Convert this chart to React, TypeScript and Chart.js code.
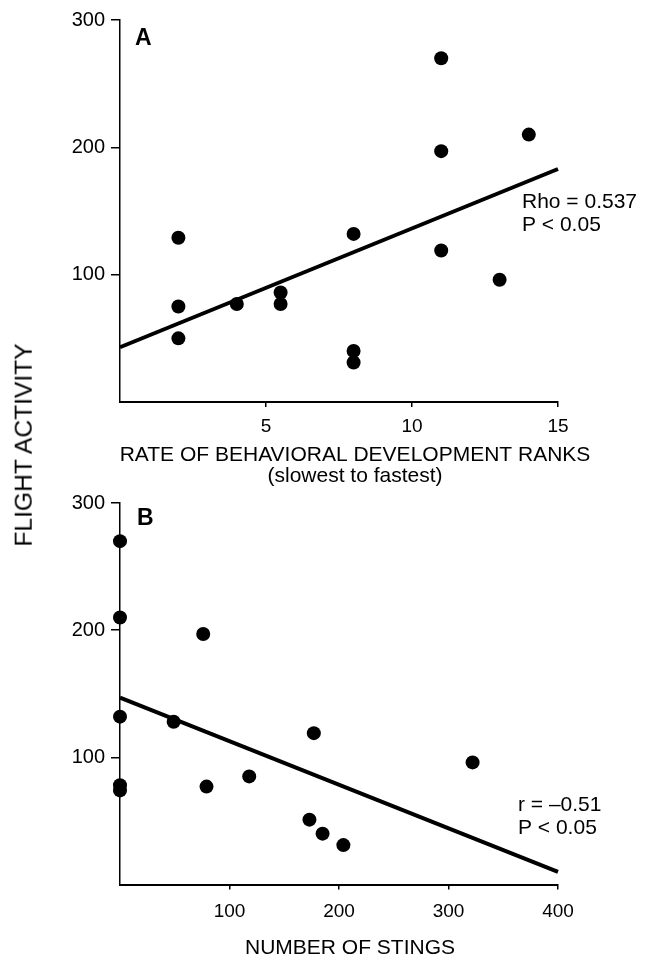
import React, { useEffect, useRef } from 'react';
import { Chart, registerables } from 'chart.js';

Chart.register(...registerables);

// Panel A: rate of behavioral development ranks vs flight activity
const rankA = [2, 2, 2, 4, 5.5, 5.5, 8, 8, 8, 11, 11, 11, 13, 14];
const flightA = [129, 75, 50, 77, 86, 77, 132, 40, 31, 270, 197, 119, 96, 210];
const fitAX = [0, 15];
const fitAY = [43, 183];

// Panel B: number of stings vs flight activity
const stingsB = [0, 0, 76, 0, 49, 0, 0, 79, 118, 177, 173, 185, 204, 322];
const flightB = [270, 210, 197, 132, 128, 74, 78, 77, 85, 119, 51, 40, 31, 96];
const fitBX = [0, 400];
const fitBY = [147, 10];

// Tick values
const yTicks = [100, 200, 300];
const xTicksA = [5, 10, 15];
const xTicksB = [100, 200, 300, 400];

// Texts
const titleA1 = 'RATE OF BEHAVIORAL DEVELOPMENT RANKS';
const titleA2 = '(slowest to fastest)';
const titleB = 'NUMBER OF STINGS';
const statA = ['Rho = 0.537', 'P < 0.05'];
const statB = ['r = \u20130.51', 'P < 0.05'];
const yTitle = 'FLIGHT ACTIVITY';

const FONT = '"Liberation Sans", Arial, Helvetica, sans-serif';

const textPlugin = {
  id: 'texts',
  afterDraw(chart: any, _args: any, opts: any) {
    const ctx = chart.ctx;
    ctx.save();
    for (const t of opts.items || []) {
      ctx.font = t.font;
      ctx.fillStyle = '#000';
      ctx.textAlign = t.align || 'left';
      ctx.textBaseline = 'alphabetic';
      ctx.fillText(t.text, t.x, t.y);
    }
    ctx.restore();
  },
};

function makeConfig(p: {
  xs: number[]; ys: number[]; fx: number[]; fy: number[];
  xMax: number; xTicks: number[]; padTop: number; xHeight: number; xPad: number; items: any[];
}) {
  const pts = p.xs.map((x, i) => ({ x, y: p.ys[i] }));
  const fit = p.fx.map((x, i) => ({ x, y: p.fy[i] }));
  return {
    type: 'scatter' as const,
    data: {
      datasets: [
        {
          type: 'line' as const,
          data: fit,
          borderColor: '#000',
          borderWidth: 4,
          pointRadius: 0,
          fill: false,
          order: 0,
          clip: false as const,
        },
        {
          data: pts,
          backgroundColor: '#000',
          borderColor: '#000',
          borderWidth: 0,
          pointRadius: 7,
          pointHoverRadius: 7,
          order: 1,
          clip: false as const,
        },
      ],
    },
    options: {
      responsive: false,
      animation: false as const,
      events: [],
      layout: { padding: { left: 0, right: 94, top: p.padTop, bottom: 0 } },
      plugins: {
        legend: { display: false },
        tooltip: { enabled: false },
        texts: { items: p.items },
      },
      scales: {
        x: {
          type: 'linear' as const,
          min: 0,
          max: p.xMax,
          afterBuildTicks: (s: any) => { s.ticks = p.xTicks.map((v) => ({ value: v })); },
          afterFit: (s: any) => { s.height = p.xHeight; },
          ticks: { color: '#000', font: { family: FONT, size: 19 }, padding: p.xPad, maxRotation: 0 },
          grid: { drawOnChartArea: false, drawTicks: true, tickLength: 5, color: '#000', lineWidth: 1.5 },
          border: { display: true, color: '#000', width: 2 },
        },
        y: {
          type: 'linear' as const,
          min: 0,
          max: 300,
          afterBuildTicks: (s: any) => { s.ticks = yTicks.map((v) => ({ value: v })); },
          afterFit: (s: any) => { s.width = 120; },
          ticks: { color: '#000', font: { family: FONT, size: 20 }, padding: 6 },
          grid: { drawOnChartArea: false, drawTicks: true, tickLength: 9, color: '#000', lineWidth: 1.5 },
          border: { display: true, color: '#000', width: 1.5 },
        },
      },
    },
    plugins: [textPlugin],
  };
}

export default function App() {
  const refA = useRef<HTMLCanvasElement | null>(null);
  const refB = useRef<HTMLCanvasElement | null>(null);

  useEffect(() => {
    const f21 = `21px ${FONT}`;
    const bold = `bold 23px ${FONT}`;
    const cfgA = makeConfig({
      xs: rankA, ys: flightA, fx: fitAX, fy: fitAY, xMax: 15, xTicks: xTicksA,
      padTop: 20, xHeight: 98, xPad: 8,
      items: [
        { text: 'A', x: 135, y: 45, font: bold },
        { text: statA[0], x: 522, y: 208, font: f21 },
        { text: statA[1], x: 522, y: 231, font: f21 },
        { text: titleA1, x: 355, y: 461, font: f21, align: 'center' },
        { text: titleA2, x: 355, y: 482, font: f21, align: 'center' },
      ],
    });
    const cfgB = makeConfig({
      xs: stingsB, ys: flightB, fx: fitBX, fy: fitBY, xMax: 400, xTicks: xTicksB,
      padTop: 23, xHeight: 72.5, xPad: 11,
      items: [
        { text: 'B', x: 137, y: 45, font: bold },
        { text: statB[0], x: 518, y: 331, font: f21 },
        { text: statB[1], x: 518, y: 354, font: f21 },
        { text: titleB, x: 350, y: 474, font: f21, align: 'center' },
      ],
    });
    const a = new Chart(refA.current as HTMLCanvasElement, cfgA as any);
    const b = new Chart(refB.current as HTMLCanvasElement, cfgB as any);
    return () => { a.destroy(); b.destroy(); };
  }, []);

  return (
    <div style={{ position: 'absolute', left: 0, top: 0, width: 652, height: 957, background: '#fff', overflow: 'hidden' }}>
      <canvas ref={refA} width={652} height={500} style={{ position: 'absolute', left: 0, top: 0, display: 'block' }} />
      <canvas ref={refB} width={652} height={477} style={{ position: 'absolute', left: 0, top: 480, display: 'block' }} />
      <div
        style={{
          position: 'absolute',
          left: 24,
          top: 445,
          transform: 'translate(-50%, -50%) rotate(-90deg)',
          whiteSpace: 'nowrap',
          fontFamily: FONT,
          fontSize: 24.6,
          lineHeight: 1,
          color: '#000',
        }}
      >
        {yTitle}
      </div>
    </div>
  );
}
